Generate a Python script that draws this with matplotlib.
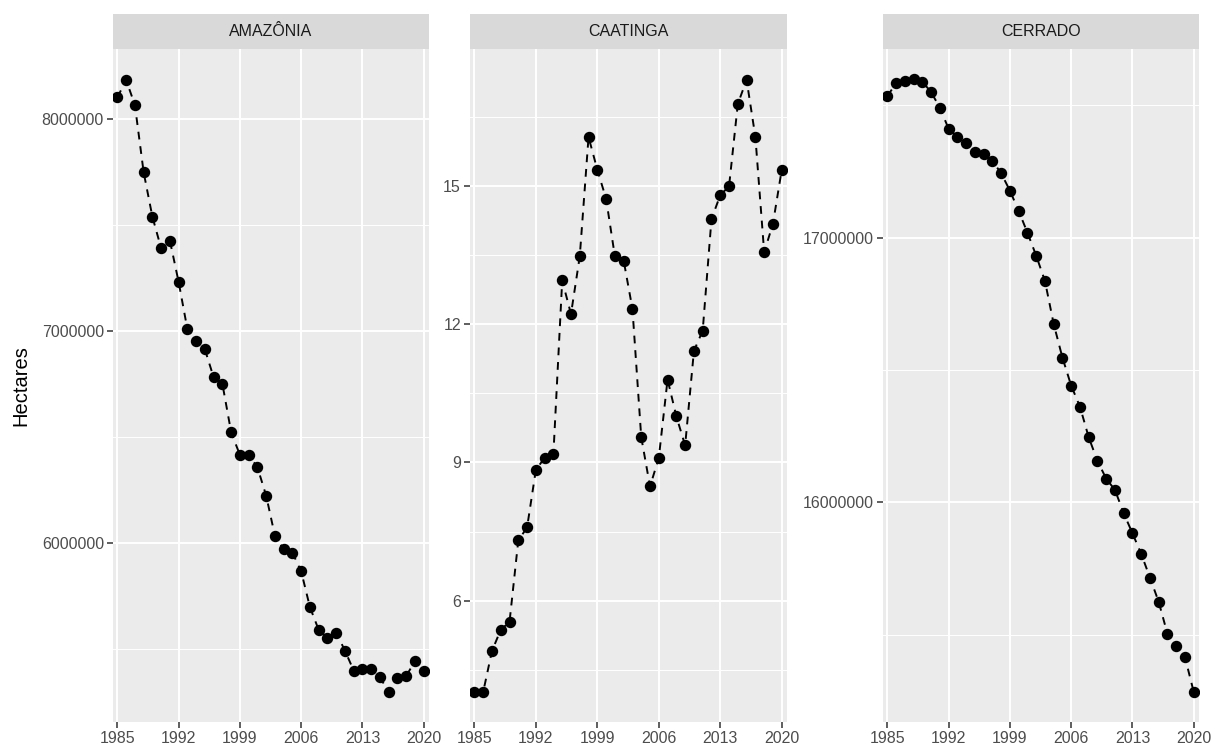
import matplotlib
matplotlib.use("Agg")
import matplotlib.pyplot as plt
import numpy as np

plt.rcParams['font.family'] = ['Liberation Sans', 'DejaVu Sans']

years = list(range(1985, 2021))

amazonia = [8102000, 8184000, 8066000, 7749000, 7539000, 7390000, 7426000,
            7231000, 7008000, 6954000, 6913000, 6781000, 6750000, 6522000,
            6415000, 6415000, 6357000, 6223000, 6033000, 5970000, 5954000,
            5866000, 5697000, 5590000, 5553000, 5577000, 5492000, 5398000,
            5404000, 5407000, 5366000, 5297000, 5361000, 5373000, 5443000,
            5395000]

caatinga = [4.02, 4.02, 4.91, 5.37, 5.54, 7.31, 7.59, 8.84, 9.10, 9.19,
            12.95, 12.22, 13.47, 16.06, 15.35, 14.72, 13.47, 13.38, 12.33,
            9.55, 8.48, 9.10, 10.80, 10.00, 9.37, 11.42, 11.86, 14.28, 14.80,
            14.99, 16.78, 17.30, 16.06, 13.56, 14.18, 15.35]

cerrado = [17535500, 17583500, 17593400, 17598700, 17589600, 17549500,
           17491300, 17410800, 17381700, 17356800, 17322700, 17315200,
           17289900, 17243300, 17177600, 17100900, 17018900, 16932000,
           16836400, 16673800, 16546500, 16440700, 16361300, 16245700,
           16156100, 16089300, 16046500, 15958400, 15882800, 15804600,
           15715000, 15623200, 15502200, 15458000, 15414200, 15283000]

panel_names = ["AMAZÔNIA", "CAATINGA", "CERRADO"]
x_breaks = [1985, 1992, 1999, 2006, 2013, 2020]
y_breaks = [[6000000, 7000000, 8000000], [6, 9, 12, 15], [16000000, 17000000]]
y_minor = [[5500000, 6500000, 7500000], [4.5, 7.5, 10.5, 13.5, 16.5],
           [15500000, 16500000, 17500000]]
y_limits = [(5155660, 8330189), (3.37, 17.97), (15169700, 17713000)]
series = [amazonia, caatinga, cerrado]

W, H = 1214, 747
fig = plt.figure(figsize=(W / 100, H / 100), dpi=100)

panel_x = [(113, 429), (470, 787), (883, 1199)]
top, bottom = 49, 722
strip_top = 14

def frac(x0, x1, y0, y1):
    return [x0 / W, 1 - y1 / H, (x1 - x0) / W, (y1 - y0) / H]

for i, (x0, x1) in enumerate(panel_x):
    ax = fig.add_axes(frac(x0, x1, top, bottom))
    ax.set_facecolor("#EBEBEB")
    for s in ax.spines.values():
        s.set_visible(False)
    ax.set_xlim(1984.5, 2020.6)
    ax.set_ylim(*y_limits[i])
    ax.set_xticks(x_breaks)
    ax.set_xticklabels([str(v) for v in x_breaks])
    ax.set_yticks(y_breaks[i])
    ax.set_yticklabels([str(v) for v in y_breaks[i]])
    ax.set_yticks(y_minor[i], minor=True)
    ax.tick_params(axis="y", which="minor", length=0)
    ax.tick_params(axis="both", which="major", length=4, width=1.1,
                   color="#333333", labelsize=11.5, labelcolor="#4D4D4D",
                   pad=2.5)
    ax.grid(True, which="major", color="white", linewidth=1.4)
    ax.grid(True, which="minor", axis="y", color="white", linewidth=0.7)
    ax.set_axisbelow(True)
    ax.plot(years, series[i], color="black", linewidth=1.4,
            linestyle=(0, (4, 3.5)), zorder=3)
    ax.plot(years, series[i], linestyle="none", marker="o", markersize=7.2,
            color="black", zorder=4)

    sax = fig.add_axes(frac(x0, x1, strip_top, top))
    sax.set_facecolor("#D9D9D9")
    sax.set_xticks([])
    sax.set_yticks([])
    for s in sax.spines.values():
        s.set_visible(False)
    sax.text(0.5, 0.5, panel_names[i], ha="center", va="center",
             fontsize=11.5, color="#1A1A1A", transform=sax.transAxes)

fig.text(21 / W, 1 - 385.5 / H, "Hectares", rotation=90, ha="center",
         va="center", fontsize=14.5, color="black")

fig.savefig("out.png", dpi=100, facecolor="white")
